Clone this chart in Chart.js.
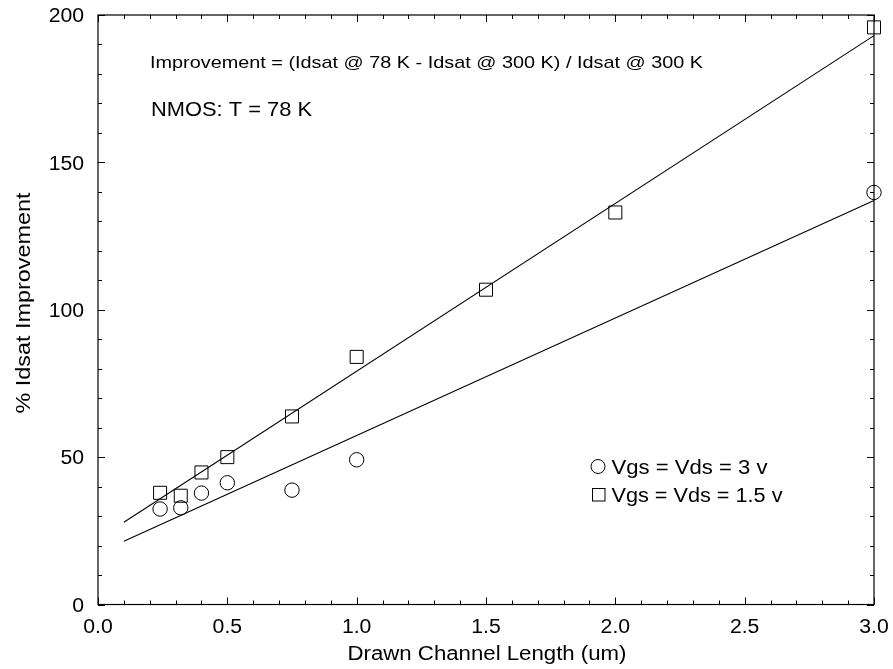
<!DOCTYPE html>
<html>
<head>
<meta charset="utf-8">
<script src="https://cdn.jsdelivr.net/npm/chart.js@4/dist/chart.umd.min.js"></script>
<style>
  html, body { margin: 0; padding: 0; background: #fff; }
  canvas { display: block; }
</style>
</head>
<body>
<canvas id="c" width="893" height="669"></canvas>
<script>
// Drawn channel length (um) and % Idsat improvement at 78 K
const lengths3v = [0.24, 0.32, 0.40, 0.50, 0.75, 1.00, 3.00];
const improve3v = [32.4, 32.8, 37.8, 41.3, 38.8, 49.1, 139.8];

const lengths15v = [0.24, 0.32, 0.40, 0.50, 0.75, 1.00, 1.50, 2.00, 3.00];
const improve15v = [37.9, 36.9, 44.8, 50.0, 63.8, 84.0, 106.8, 133.0, 195.8];

// straight-line fits through each series (end points)
const fitLengths = [0.1, 3.0];
const fit3v = [21.5, 137.1];
const fit15v = [27.9, 193.0];

// axis ticks
const xMajorStep = 0.5, xMinorStep = 0.1;
const yMajorStep = 50, yMinorStep = 10;

const seriesNames = ['Vgs = Vds = 3 v', 'Vgs = Vds = 1.5 v'];
const noteFormula = 'Improvement = (Idsat @ 78 K - Idsat @ 300 K) / Idsat @ 300 K';
const noteDevice = 'NMOS: T = 78 K';
const xTitle = 'Drawn Channel Length (um)';
const yTitle = '% Idsat Improvement';

const FONT = '"Liberation Sans", Arial, Helvetica, sans-serif';
const INK = '#000';

const pts = (xs, ys) => xs.map((x, i) => ({ x: x, y: ys[i] }));

// text drawn with a horizontal stretch so that it spans a given width
function stretchText(ctx, str, x, y, size, width, align, angle) {
  ctx.save();
  ctx.font = size + 'px ' + FONT;
  const w = ctx.measureText(str).width;
  const sx = width ? width / w : 1;
  ctx.translate(x, y);
  if (angle) ctx.rotate(angle);
  ctx.scale(sx, 1);
  ctx.textAlign = align || 'left';
  ctx.textBaseline = 'alphabetic';
  ctx.fillStyle = INK;
  ctx.fillText(str, 0, 0);
  ctx.restore();
}

const TICK_SIZE = 20, TICK_SX = 1.06;
function tickText(ctx, str, x, y, align) {
  ctx.save();
  ctx.font = TICK_SIZE + 'px ' + FONT;
  ctx.translate(x, y);
  ctx.scale(TICK_SX, 1);
  ctx.textAlign = align;
  ctx.textBaseline = 'alphabetic';
  ctx.fillStyle = INK;
  ctx.fillText(str, 0, 0);
  ctx.restore();
}

const framePlugin = {
  id: 'frameAndTicks',
  beforeDatasetsDraw(chart) {
    const ctx = chart.ctx;
    const a = chart.chartArea;
    const xs = chart.scales.x, ys = chart.scales.y;
    ctx.save();
    ctx.strokeStyle = INK;
    ctx.lineWidth = 1.2;
    ctx.strokeRect(a.left, a.top, a.right - a.left, a.bottom - a.top);

    ctx.lineWidth = 1;
    ctx.beginPath();
    // x ticks, bottom and top, pointing inward
    for (let v = xs.min; v <= xs.max + 1e-9; v += xMinorStep) {
      const major = Math.abs(v / xMajorStep - Math.round(v / xMajorStep)) < 1e-6;
      const len = major ? 7 : 4;
      const px = Math.round(xs.getPixelForValue(v)) + 0.5;
      ctx.moveTo(px, a.bottom); ctx.lineTo(px, a.bottom - len);
      ctx.moveTo(px, a.top); ctx.lineTo(px, a.top + len);
    }
    // y ticks, left and right, pointing inward
    for (let v = ys.min; v <= ys.max + 1e-9; v += yMinorStep) {
      const major = Math.abs(v / yMajorStep - Math.round(v / yMajorStep)) < 1e-6;
      const len = major ? 7 : 4;
      const py = Math.round(ys.getPixelForValue(v)) + 0.5;
      ctx.moveTo(a.left, py); ctx.lineTo(a.left + len, py);
      ctx.moveTo(a.right, py); ctx.lineTo(a.right - len, py);
    }
    ctx.stroke();
    ctx.restore();
  },
  afterDraw(chart) {
    const ctx = chart.ctx;
    const a = chart.chartArea;
    const xs = chart.scales.x, ys = chart.scales.y;

    // tick labels from the scales' own ticks
    xs.ticks.forEach(t => {
      tickText(ctx, t.value.toFixed(1), xs.getPixelForValue(t.value), 632.5, 'center');
    });
    ys.ticks.forEach(t => {
      tickText(ctx, String(t.value), 84, ys.getPixelForValue(t.value) + 0.358 * TICK_SIZE, 'right');
    });

    // axis titles
    stretchText(ctx, xTitle, (a.left + a.right) / 2 + 1, 660, 19.5, 279, 'center');
    stretchText(ctx, yTitle, 29.5, 303, 20, 221, 'center', -Math.PI / 2);

    // notes
    stretchText(ctx, noteFormula, 150, 68, 17, 553, 'left');
    stretchText(ctx, noteDevice, 151, 115.5, 20.5, 161, 'left');

    // legend
    ctx.save();
    ctx.strokeStyle = INK;
    ctx.lineWidth = 1;
    ctx.beginPath();
    ctx.arc(598, 466.5, 7, 0, Math.PI * 2);
    ctx.stroke();
    ctx.strokeRect(592.5, 488.5, 12.5, 12.5);
    ctx.restore();
    stretchText(ctx, seriesNames[0], 611.5, 473.5, 20.5, 156, 'left');
    stretchText(ctx, seriesNames[1], 611.5, 501.5, 20.5, 171, 'left');
  }
};

new Chart(document.getElementById('c'), {
  type: 'scatter',
  data: {
    datasets: [
      {
        label: seriesNames[0],
        data: pts(lengths3v, improve3v),
        pointStyle: 'circle',
        pointRadius: 7.2,
        pointBorderWidth: 1,
        borderColor: INK,
        backgroundColor: 'rgba(0,0,0,0)',
        showLine: false,
        clip: false
      },
      {
        label: seriesNames[1],
        data: pts(lengths15v, improve15v),
        pointStyle: 'rect',
        pointRadius: 9.2,
        pointBorderWidth: 1,
        borderColor: INK,
        backgroundColor: 'rgba(0,0,0,0)',
        showLine: false,
        clip: false
      },
      {
        type: 'line',
        label: 'fit 3 v',
        data: pts(fitLengths, fit3v),
        borderColor: INK,
        borderWidth: 1.1,
        pointRadius: 0,
        fill: false,
        clip: false
      },
      {
        type: 'line',
        label: 'fit 1.5 v',
        data: pts(fitLengths, fit15v),
        borderColor: INK,
        borderWidth: 1.1,
        pointRadius: 0,
        fill: false,
        clip: false
      }
    ]
  },
  options: {
    responsive: false,
    animation: false,
    devicePixelRatio: 1,
    layout: { padding: { left: 98, right: 19, top: 15, bottom: 64.5 } },
    scales: {
      x: { type: 'linear', min: 0, max: 3, display: false, ticks: { stepSize: xMajorStep } },
      y: { type: 'linear', min: 0, max: 200, display: false, ticks: { stepSize: yMajorStep } }
    },
    plugins: {
      legend: { display: false },
      tooltip: { enabled: false }
    }
  },
  plugins: [framePlugin]
});
</script>
</body>
</html>
